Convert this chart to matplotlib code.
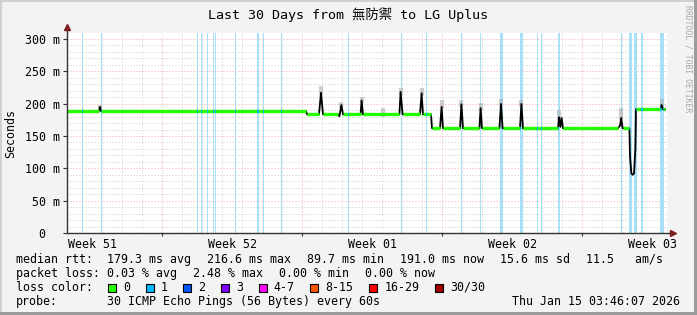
import numpy as np
import matplotlib
matplotlib.use("Agg")
import matplotlib.pyplot as plt
from matplotlib.collections import LineCollection
from matplotlib.patches import Rectangle

W, H = 697, 315
MONO = ['DejaVu Sans Mono', 'Noto Sans CJK TC']

# median rtt, days since start of window / ms
t_days = [0.0, 1.6, 1.65, 1.7, 11.95, 12.0, 12.6, 12.7, 12.8, 13.55, 13.62, 13.72, 13.8,
          14.68, 14.73, 14.8, 16.62, 16.68, 16.78, 17.65, 17.73, 17.8, 18.2, 18.25,
          18.65, 18.73, 18.8, 19.65, 19.72, 19.8, 20.62, 20.68, 20.75, 21.62, 21.7, 21.78,
          22.65, 22.72, 22.8, 24.55, 24.6, 24.67, 24.73, 24.8, 27.55, 27.65, 27.71, 27.78,
          28.12, 28.15, 28.22, 28.28, 28.35, 28.42, 28.45, 29.68, 29.73, 29.8, 29.9]
median_ms = [188.6, 188.6, 195, 188.6, 188.6, 183.6, 183.6, 217, 183.6, 183.6, 180.5, 198, 183.6,
             183.6, 205, 183.6, 183.6, 218, 183.6, 183.6, 216, 183.6, 183.6, 162,
             162, 195, 162, 162, 199, 162, 162, 193, 162, 162, 199.5, 162,
             162, 199.5, 162, 162, 179, 164, 178, 162, 162, 166, 178, 162,
             162, 118, 92, 90, 92, 131, 191.3, 191.3, 198, 191.3, 191.3]

# smoke (max rtt) above the spikes
smoke_days = [1.65, 12.7, 13.72, 14.73, 15.8, 16.68, 17.73, 18.73, 19.72, 20.68, 21.7, 22.72, 24.6, 27.71, 29.73]
smoke_top = [198, 227, 203, 211, 193, 225, 224, 205, 206, 201, 207, 206, 190, 193, 207]

# packet loss events (centre day, width in days)
loss_days = [0.035, 0.785, 1.735, 6.535, 6.735, 7.035, 7.315, 7.4, 8.4, 9.535, 9.815, 10.735,
             14.065, 16.45, 16.735, 17.985, 18.75, 19.735, 20.685, 21.0, 21.7, 22.735,
             23.5, 23.7, 24.6, 27.735, 28.175, 28.425, 28.75, 29.735]
loss_width = [0.05, 0.05, 0.05, 0.05, 0.05, 0.05, 0.05, 0.05, 0.05, 0.1, 0.05, 0.05,
              0.05, 0.05, 0.08, 0.05, 0.05, 0.08, 0.05, 0.05, 0.15, 0.13,
              0.05, 0.05, 0.08, 0.05, 0.15, 0.13, 0.08, 0.18]

week_labels = ["Week 51", "Week 52", "Week 01", "Week 02", "Week 03"]
week_label_days = [1.25, 8.25, 15.25, 22.25, 29.25]
week_lines = [4.75, 11.75, 18.75, 25.75]

yticks = [0, 50, 100, 150, 200, 250, 300]
ytick_labels = ["0  ", "50 m", "100 m", "150 m", "200 m", "250 m", "300 m"]

rtt_items = ["179.3 ms avg", "216.6 ms max", "89.7 ms min", "191.0 ms now", "15.6 ms sd", "11.5   am/s"]
loss_items = ["0.03 % avg", "2.48 % max", "0.00 % min", "0.00 % now"]
loss_names = ["0", "1", "2", "3", "4-7", "8-15", "16-29", "30/30"]
loss_colors = ['#26ff00', '#00b8ff', '#0059ff', '#7e00ff', '#ff00ff', '#ff5500', '#ff0000', '#a10000']


def fx(px):
    return px / W


def fy(py):
    return 1 - py / H


fig = plt.figure(figsize=(W / 100, H / 100), dpi=100, facecolor='#f3f3f3')
ax = fig.add_axes([fx(67), fy(233), 600 / W, 200 / H])
ax.set_xlim(0, 30)
ax.set_ylim(0, 309.3)
ax.set_facecolor('white')
for s in ax.spines.values():
    s.set_visible(False)

# grid
minor_c, major_c = '#cccccc', '#eeaaaa'
for v in range(10, 310, 10):
    if v % 50:
        ax.axhline(v, color=minor_c, lw=0.72, ls=(0, (1, 2)), zorder=1)
for v in range(50, 310, 50):
    ax.axhline(v, color=major_c, lw=0.72, ls=(0, (1, 2)), zorder=1)
for d in np.arange(0.75, 30, 1.0):
    if d not in week_lines:
        ax.axvline(d, color=minor_c, lw=0.72, ls=(0, (1, 2)), zorder=1)
for d in week_lines:
    ax.axvline(d, color=major_c, lw=0.72, ls=(0, (1, 2)), zorder=1)

# loss bars
spans = []
for d, w in zip(loss_days, loss_width):
    sp = ax.axvspan(d - w / 2, d + w / 2, color='#a8e0f8', lw=0, zorder=2, antialiased=False)
    spans.append(sp)

# smoke
base = np.interp(smoke_days, t_days, median_ms)
ax.vlines(smoke_days, base - 4, smoke_top, color='#a8a8a8', lw=3, alpha=0.55, zorder=3)

# median line
ax.plot(t_days, median_ms, color='black', lw=1.3, zorder=4)
segs = [[(t_days[i], median_ms[i]), (t_days[i + 1], median_ms[i + 1])]
        for i in range(len(t_days) - 1) if median_ms[i] == median_ms[i + 1]]
ax.add_collection(LineCollection(segs, colors='#26ff00', linewidths=2.4, capstyle='butt', zorder=5))
for sp in spans:
    lc = LineCollection(segs, colors='#00b8ff', linewidths=2.4, capstyle='butt', zorder=6)
    ax.add_collection(lc)
    lc.set_clip_path(sp)

# axes with arrows
ax.plot([0, 0], [0, 1.025], transform=ax.transAxes, color='#333333', lw=1, clip_on=False, zorder=7)
ax.plot([0, 1.008], [0, 0], transform=ax.transAxes, color='#333333', lw=1, clip_on=False, zorder=7)
ax.plot([0], [1.03], marker='^', ms=5, color='#7f1f1f', transform=ax.transAxes, clip_on=False, zorder=8)
ax.plot([1.01], [0], marker='>', ms=5, color='#7f1f1f', transform=ax.transAxes, clip_on=False, zorder=8)

ax.set_yticks(yticks, ytick_labels, family=MONO, fontsize=8.4)
ax.tick_params(axis='y', length=3, width=0.8, color='#333333', pad=2)
ax.set_xticks(week_label_days, week_labels, family=MONO, fontsize=8.4)
ax.tick_params(axis='x', length=0, pad=3.5)
ax.set_xticks(week_lines, minor=True)
ax.tick_params(axis='x', which='minor', length=2.5, width=0.8, color='#333333')

fig.text(fx(11), fy(133), 'Seconds', rotation=90, ha='center', va='center', family=MONO, fontsize=8.4)
fig.text(0.5, fy(14.5), 'Last 30 Days from 無防禦 to LG Uplus', ha='center', va='center',
         family=MONO, fontsize=9.6)
fig.text(fx(688), fy(59), 'RRDTOOL / TOBI OETIKER', rotation=270, ha='center', va='center',
         family=MONO, fontsize=5.9, color='#aaaaaa')

# legend rows
CW = 7.0  # px per character
GLUE = 16


def row(y, label, items):
    fig.text(fx(16), fy(y), label, ha='left', va='center', family=MONO, fontsize=8.4)
    x = 107
    for it in items:
        fig.text(fx(x), fy(y), it, ha='left', va='center', family=MONO, fontsize=8.4)
        x += len(it) * CW + GLUE


row(259.5, 'median rtt:', rtt_items)
row(273.5, 'packet loss:', loss_items)

fig.text(fx(16), fy(287.5), 'loss color:', ha='left', va='center', family=MONO, fontsize=8.4)
x = 108
for name, c in zip(loss_names, loss_colors):
    fig.patches.append(Rectangle((fx(x), fy(291.5)), 8 / W, 8 / H, transform=fig.transFigure,
                                 facecolor=c, edgecolor='black', lw=0.8))
    fig.text(fx(x + 15), fy(287.5), name, ha='left', va='center', family=MONO, fontsize=8.4)
    x += 15 + len(name) * CW + 15.7

fig.text(fx(16), fy(301.5), 'probe:', ha='left', va='center', family=MONO, fontsize=8.4)
fig.text(fx(107), fy(301.5), '30 ICMP Echo Pings (56 Bytes) every 60s', ha='left', va='center',
         family=MONO, fontsize=8.4)
fig.text(fx(680), fy(301.5), 'Thu Jan 15 03:46:07 2026', ha='right', va='center',
         family=MONO, fontsize=8.4)

# frame shading
fig.patches.append(Rectangle((0, fy(2)), 1, 2 / H, transform=fig.transFigure, color='#d0d0d0', lw=0))
fig.patches.append(Rectangle((0, 0), 2 / W, 1, transform=fig.transFigure, color='#d0d0d0', lw=0))
fig.patches.append(Rectangle((0, 0), 1, 3 / H, transform=fig.transFigure, color='#9c9c9c', lw=0))
fig.patches.append(Rectangle((fx(694), 0), 3 / W, 1, transform=fig.transFigure, color='#9c9c9c', lw=0))

fig.savefig('out.png', dpi=100, facecolor=fig.get_facecolor())
